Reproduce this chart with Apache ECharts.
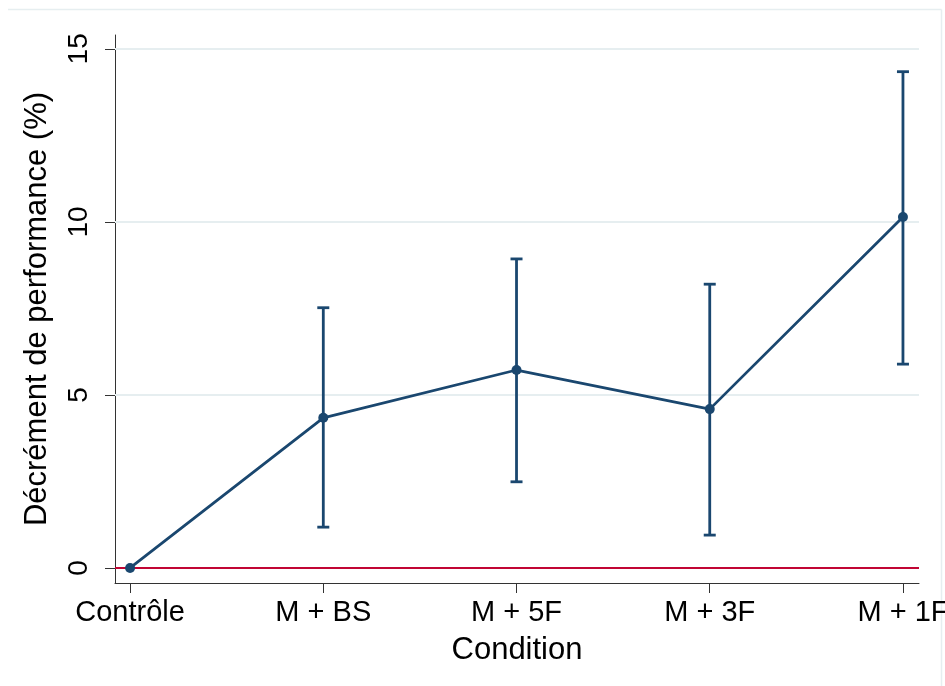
<!DOCTYPE html>
<html>
<head>
<meta charset="utf-8">
<script src="https://cdn.jsdelivr.net/npm/echarts@6/dist/echarts.min.js"></script>
<style>
html,body{margin:0;padding:0;background:#fff;}
#main{width:945px;height:686px;}
</style>
</head>
<body>
<div id="main"></div>
<script>
// Data
const categories = ['Contrôle', 'M + BS', 'M + 5F', 'M + 3F', 'M + 1F'];
const meanValues = [0, 4.34, 5.72, 4.59, 10.14];
const upperValues = [0, 7.52, 8.93, 8.20, 14.34];
const lowerValues = [0, 1.18, 2.49, 0.95, 5.89];
const yTicks = [0, 5, 10, 15];
const gridValues = [5, 10, 15];

const navy = '#1a476f';
const font = '"Liberation Sans", Arial, sans-serif';

const xIdx = categories.map((c, i) => i);
const lineData = meanValues.map((v, i) => [i, v]);
const errData = categories.map((c, i) => [i, lowerValues[i], upperValues[i]]).filter(d => d[1] !== d[2]);

const chart = echarts.init(document.getElementById('main'));
chart.setOption({
  animation: false,
  backgroundColor: '#fff',
  grid: { left: 115, right: 26, top: 35, bottom: 103, containLabel: false, outerBoundsMode: 'none' },
  graphic: [
    { type: 'line', shape: { x1: 8, y1: 9.5, x2: 941.5, y2: 9.5 }, style: { stroke: '#e6eef0', lineWidth: 1.5 }, silent: true },
    { type: 'line', shape: { x1: 941.5, y1: 9.5, x2: 941.5, y2: 686 }, style: { stroke: '#e6eef0', lineWidth: 1.5 }, silent: true }
  ],
  xAxis: {
    type: 'value',
    min: -0.078,
    max: 4.083,
    name: 'Condition',
    nameLocation: 'middle',
    nameGap: 52,
    nameTextStyle: { fontFamily: font, fontSize: 31, color: '#000' },
    axisLine: { show: true, onZero: false, lineStyle: { color: '#333', width: 1 } },
    axisTick: { show: true, customValues: xIdx, length: 10, lineStyle: { color: '#333', width: 1 } },
    axisLabel: {
      customValues: xIdx, margin: 15, fontFamily: font, fontSize: 29, color: '#000',
      hideOverlap: false,
      formatter: v => categories[Math.round(v)] || ''
    },
    splitLine: { show: false }
  },
  yAxis: {
    type: 'value',
    min: -0.434,
    max: 15.4,
    name: 'Décrément de performance (%)',
    nameLocation: 'middle',
    nameGap: 62,
    nameTextStyle: { fontFamily: font, fontSize: 31, color: '#000' },
    axisLine: { show: true, onZero: false, lineStyle: { color: '#333', width: 1 } },
    axisTick: { show: true, customValues: yTicks, length: 10, lineStyle: { color: '#333', width: 1 } },
    axisLabel: { customValues: yTicks, rotate: 90, margin: 22, fontFamily: font, fontSize: 28, color: '#000' },
    splitLine: { show: false }
  },
  series: [
    {
      type: 'line',
      data: [],
      silent: true,
      z: 1,
      markLine: {
        silent: true, symbol: 'none', label: { show: false }, z: 1,
        lineStyle: { color: '#e6eef0', width: 2, type: 'solid' },
        data: gridValues.map(v => [{ coord: [-0.078, v] }, { coord: [4.083, v] }])
      }
    },
    {
      type: 'line',
      data: [],
      silent: true,
      z: 2,
      markLine: {
        silent: true, symbol: 'none', label: { show: false }, z: 2,
        lineStyle: { color: '#c10534', width: 2, type: 'solid' },
        data: [[{ coord: [-0.078, 0] }, { coord: [4.083, 0] }]]
      }
    },
    {
      type: 'custom',
      data: errData,
      z: 3,
      renderItem: function (params, api) {
        const x = api.value(0);
        const lo = api.coord([x, api.value(1)]);
        const hi = api.coord([x, api.value(2)]);
        const hw = 6;
        const st = { stroke: navy, lineWidth: 2.8 };
        return {
          type: 'group',
          children: [
            { type: 'line', shape: { x1: lo[0], y1: lo[1], x2: hi[0], y2: hi[1] }, style: st },
            { type: 'line', shape: { x1: hi[0] - hw, y1: hi[1], x2: hi[0] + hw, y2: hi[1] }, style: st },
            { type: 'line', shape: { x1: lo[0] - hw, y1: lo[1], x2: lo[0] + hw, y2: lo[1] }, style: st }
          ]
        };
      }
    },
    {
      type: 'line',
      data: lineData,
      z: 4,
      symbol: 'circle',
      symbolSize: 10,
      lineStyle: { color: navy, width: 2.8 },
      itemStyle: { color: navy }
    }
  ]
});
</script>
</body>
</html>
